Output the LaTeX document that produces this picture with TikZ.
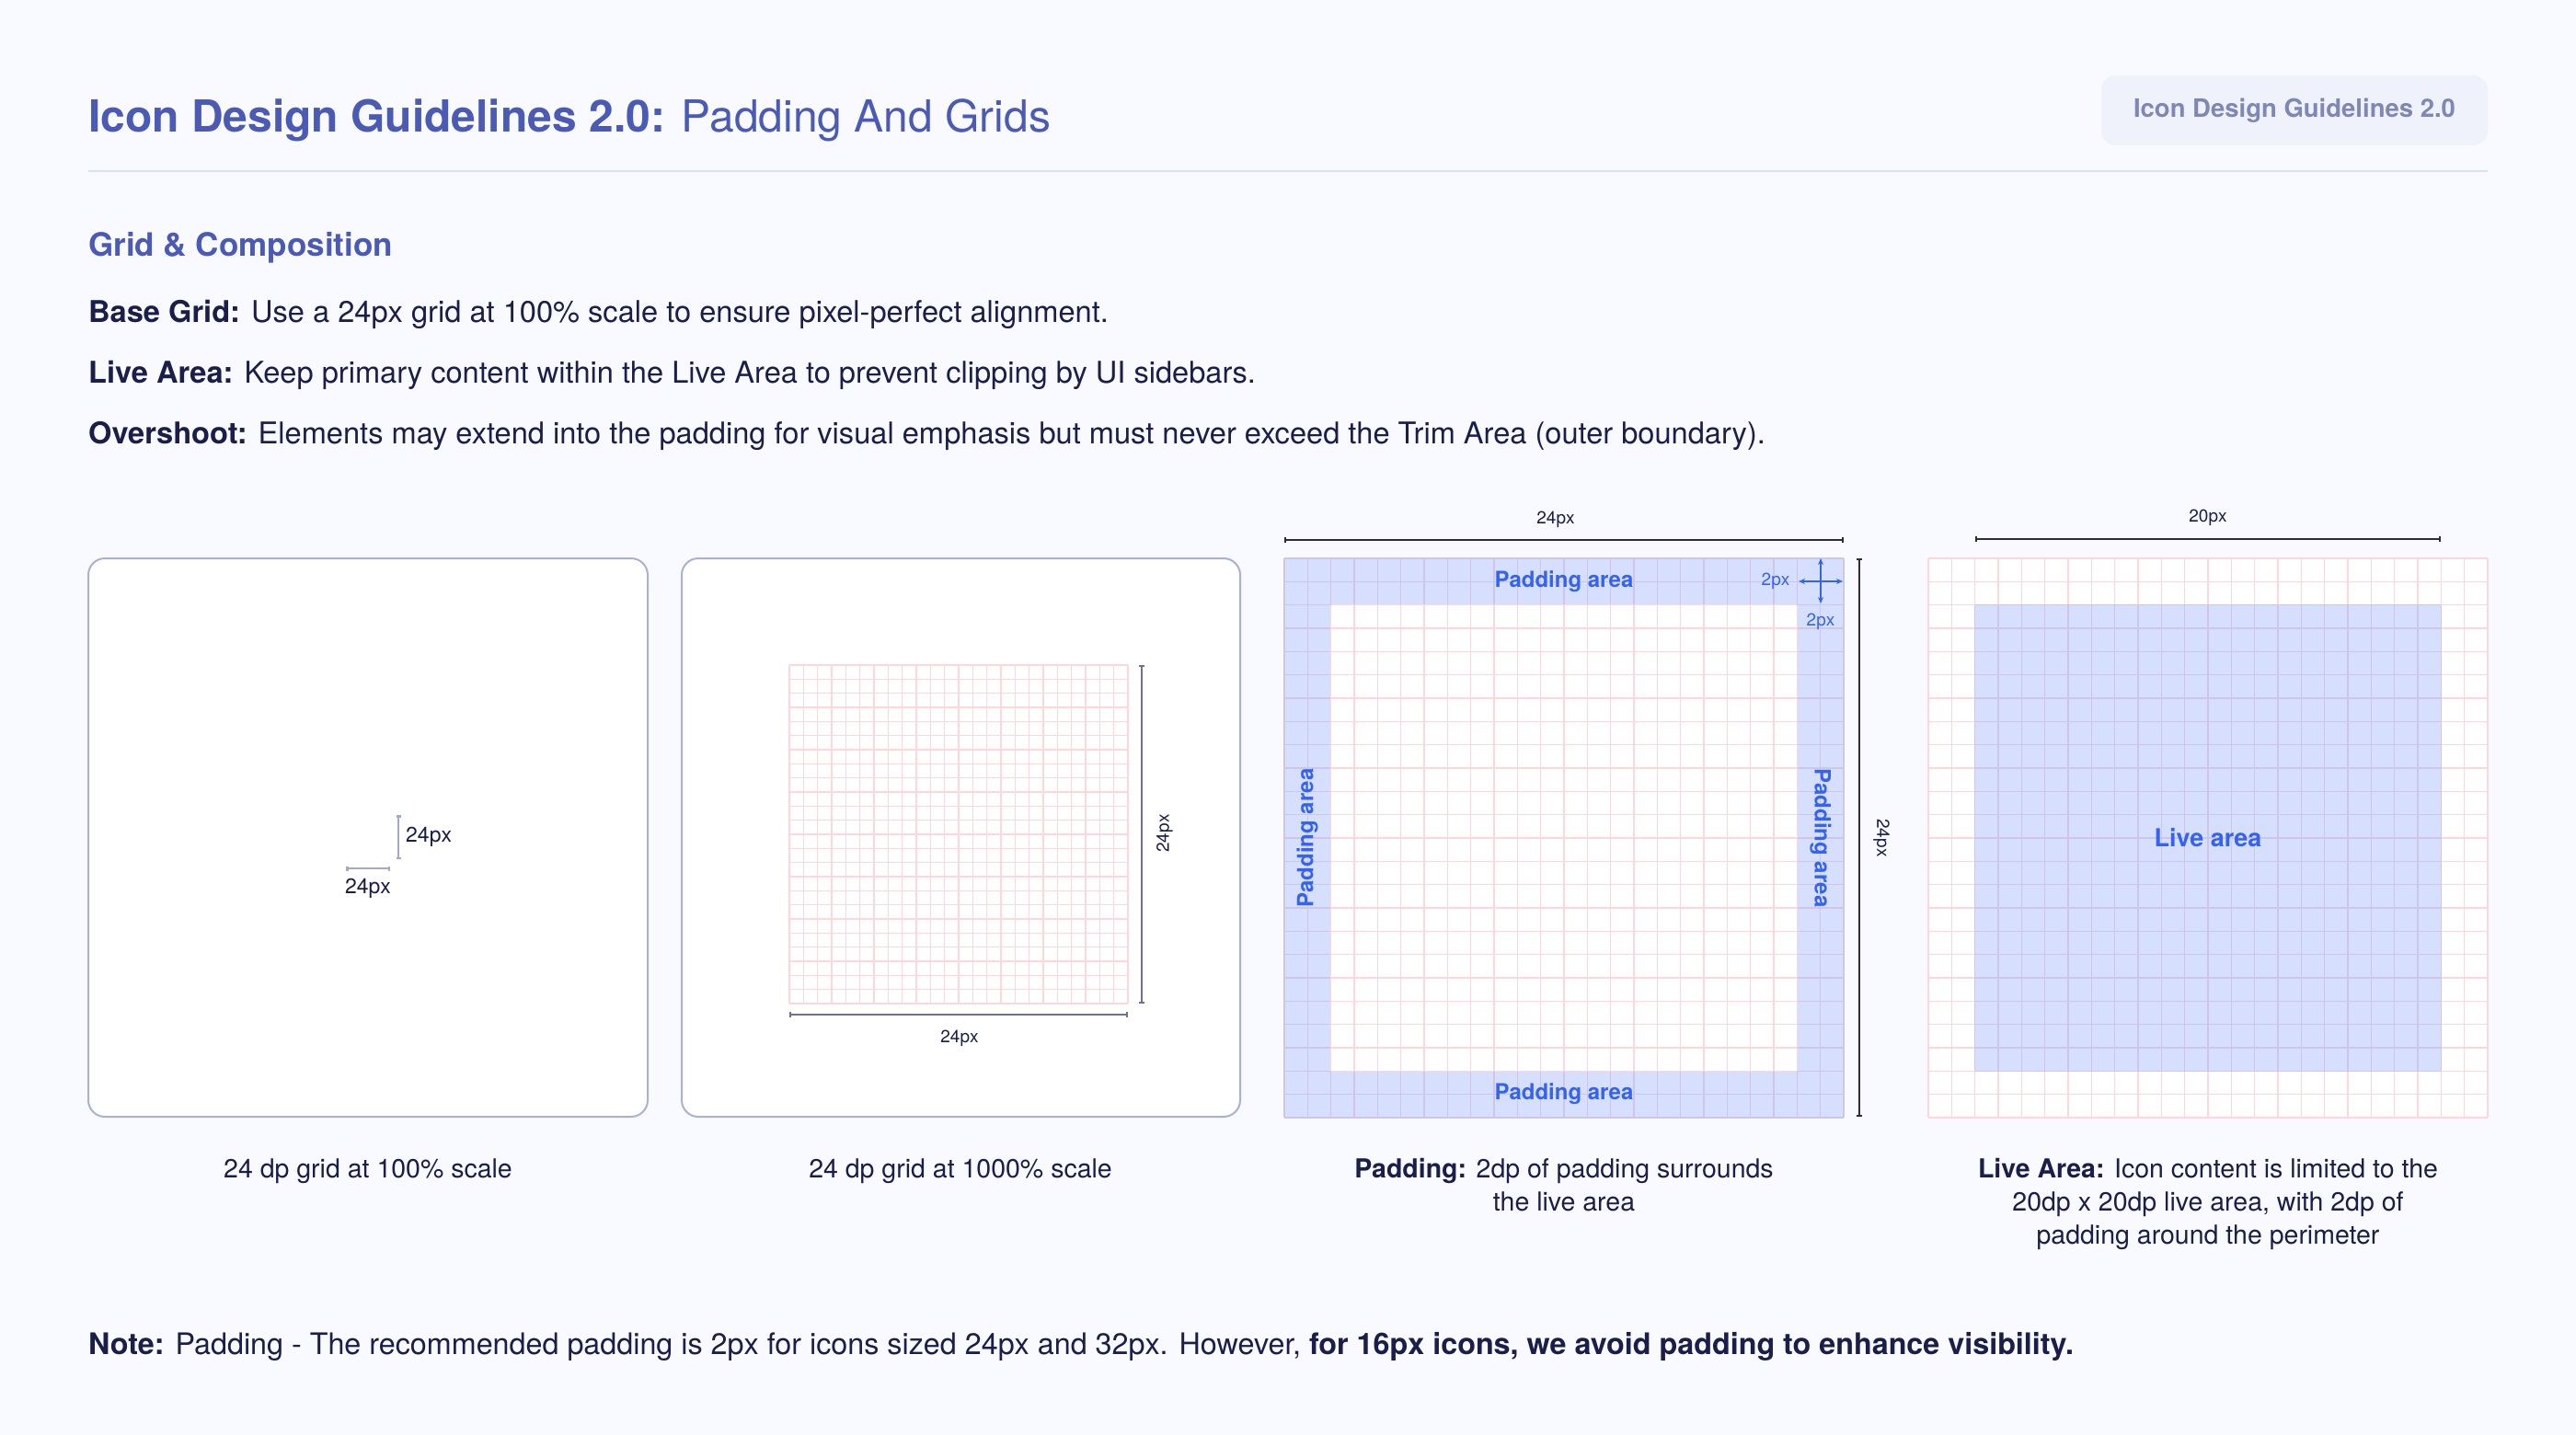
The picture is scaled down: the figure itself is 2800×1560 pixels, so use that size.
\documentclass[tikz,border=0pt]{standalone}
\usepackage{fontspec}
\setmainfont{TeX Gyre Heros}
\usetikzlibrary{arrows.meta}
\definecolor{pagebg}{HTML}{F8FAFF}
\definecolor{indigo}{HTML}{4B5BB5}
\definecolor{ink}{HTML}{1A1E48}
\definecolor{rule}{HTML}{D8E1FA}
\definecolor{boxline}{HTML}{ABB0D6}
\definecolor{badgefill}{HTML}{F0F2FB}
\definecolor{badgeink}{HTML}{7F87B5}
\definecolor{gridpink}{HTML}{FFD6DA}
\definecolor{gridlav}{HTML}{CDC6E6}
\definecolor{padblue}{HTML}{D6DFFD}
\definecolor{brightblue}{HTML}{3563F0}
\definecolor{dimdark}{HTML}{2B2D3C}
\definecolor{dimgrey}{HTML}{6E7396}
\definecolor{dimsoft}{HTML}{A3A8CF}
\tikzset{
	body text/.style={font=\fontsize{32.6}{38}\selectfont,text=ink,anchor=base west,inner sep=0pt},
	caption/.style={font=\fontsize{28.5}{36}\selectfont,text=ink,align=center,anchor=base,inner sep=0pt},
	panel box/.style={draw=boxline,line width=2pt,fill=white,rounded corners=18pt},
	dim label/.style={font=\fontsize{19}{22}\selectfont,text=ink,inner sep=0pt},
	pad label/.style={font=\fontsize{24}{28}\selectfont\bfseries,text=brightblue,inner sep=0pt},
	dim line/.style={draw=dimdark,line width=2.2pt,{Bar[width=6pt]}-{Bar[width=6pt]}},
	pink line/.style={draw=gridpink,line width=1.3pt},
	lav line/.style={draw=gridlav,line width=1.3pt}
}

\begin{document}
\begin{tikzpicture}[x=1pt,y=-1pt]
	\fill[pagebg] (0,0) rectangle (2800,1560);
	\useasboundingbox (0,0) rectangle (2800,1560);

	% header
	\node [anchor=base west,inner sep=0pt,text=indigo,font=\fontsize{48}{56}\selectfont] (title) at (96,143)
		{\textbf{Icon Design Guidelines 2.0:} Padding And Grids};
	\node [fill=badgefill,rounded corners=16pt,minimum width=420pt,minimum height=76pt,
		text=badgeink,font=\fontsize{27.5}{32}\selectfont\bfseries] (badge) at (2494,120) {Icon Design Guidelines 2.0};
	\draw[rule,line width=2.5pt] (96,186) -- (2704,186);

	% section text
	\node [anchor=base west,inner sep=0pt,text=indigo,font=\fontsize{35}{40}\selectfont\bfseries] (section) at (96,278) {Grid \& Composition};
	\node [body text] (basegrid) at (96,350) {\textbf{Base Grid:} Use a 24px grid at 100\% scale to ensure pixel-perfect alignment.};
	\node [body text] (livearea) at (96,416) {\textbf{Live Area:} Keep primary content within the Live Area to prevent clipping by UI sidebars.};
	\node [body text] (overshoot) at (96,482) {\textbf{Overshoot:} Elements may extend into the padding for visual emphasis but must never exceed the Trim Area (outer boundary).};

	% panel 1: 100% scale
	\draw[panel box] (96,607) rectangle (704,1214);
	\coordinate (v1a) at (433,886);
	\coordinate (v1b) at (433,934);
	\coordinate (h1a) at (376,944);
	\coordinate (h1b) at (424,944);
	\draw[draw=dimsoft,line width=2.5pt,{Bar[width=5pt]}-{Bar[width=5pt]}] (v1a) -- (v1b);
	\draw[draw=dimsoft,line width=2.5pt,{Bar[width=5pt]}-{Bar[width=5pt]}] (h1a) -- (h1b);
	\node [dim label,font=\fontsize{23}{26}\selectfont,anchor=west] (small1) at (441,910) {24px};
	\node [dim label,font=\fontsize{23}{26}\selectfont] (small2) at (400,966) {24px};

	% panel 2: 1000% scale
	\draw[panel box] (741,607) rectangle (1348,1214);
	\foreach \k in {0,...,24} {
		\draw[pink line] ({858+\k*15.333},723) -- ({858+\k*15.333},1091);
		\draw[pink line] (858,{723+\k*15.333}) -- (1226,{723+\k*15.333});
	}
	\coordinate (r2a) at (1241,723);
	\coordinate (r2b) at (1241,1091);
	\coordinate (b2a) at (858,1103);
	\coordinate (b2b) at (1226,1103);
	\draw[dim line,draw=dimgrey,line width=1.6pt] (r2a) -- (r2b);
	\draw[dim line,draw=dimgrey,line width=1.6pt] (b2a) -- (b2b);
	\node [dim label] (big1) at (1043,1129) {24px};
	\node [dim label,rotate=90] (big2) at (1266,906) {24px};

	% panel 3: padding
	\fill[padblue] (1396,607) rectangle (2004,1215);
	\foreach \k in {0,...,24} {
		\draw[lav line] ({1396+\k*25.333},607) -- ({1396+\k*25.333},1215);
		\draw[lav line] (1396,{607+\k*25.333}) -- (2004,{607+\k*25.333});
	}
	\fill[white] (1447,658) rectangle (1953,1164);
	\foreach \k in {2,...,22} {
		\draw[pink line] ({1396+\k*25.333},658) -- ({1396+\k*25.333},1164);
		\draw[pink line] (1447,{607+\k*25.333}) -- (1953,{607+\k*25.333});
	}
	\coordinate (t3a) at (1396,587);
	\coordinate (t3b) at (2004,587);
	\coordinate (r3a) at (2021,607);
	\coordinate (r3b) at (2021,1214);
	\draw[dim line] (t3a) -- (t3b);
	\draw[dim line] (r3a) -- (r3b);
	\node [dim label] (pad24a) at (1691,565) {24px};
	\node [dim label,rotate=-90] (pad24b) at (2045,911) {24px};
	\node [pad label] (padtop) at (1700,632) {Padding area};
	\node [pad label] (padbottom) at (1700,1189) {Padding area};
	\node [pad label,rotate=90] (padleft) at (1421,911) {Padding area};
	\node [pad label,rotate=-90] (padright) at (1979,911) {Padding area};
	\node [dim label,text=brightblue] (twopxa) at (1930,632) {2px};
	\node [dim label,text=brightblue] (twopxb) at (1979,676) {2px};
	\coordinate (cv1) at (1979,607);
	\coordinate (cv2) at (1979,656);
	\coordinate (ch1) at (1955,632);
	\coordinate (ch2) at (2003,632);
	\draw[brightblue,line width=1.6pt,{Stealth[length=7pt,width=6pt]}-{Stealth[length=7pt,width=6pt]}] (cv1) -- (cv2);
	\draw[brightblue,line width=1.6pt,{Stealth[length=7pt,width=6pt]}-{Stealth[length=7pt,width=6pt]}] (ch1) -- (ch2);

	% panel 4: live area
	\fill[white] (2096,607) rectangle (2704,1215);
	\foreach \k in {0,...,24} {
		\draw[pink line] ({2096+\k*25.333},607) -- ({2096+\k*25.333},1215);
		\draw[pink line] (2096,{607+\k*25.333}) -- (2704,{607+\k*25.333});
	}
	\fill[padblue] (2147,658) rectangle (2653,1164);
	\foreach \k in {2,...,22} {
		\draw[lav line] ({2096+\k*25.333},658) -- ({2096+\k*25.333},1164);
		\draw[lav line] (2147,{607+\k*25.333}) -- (2653,{607+\k*25.333});
	}
	\coordinate (t4a) at (2147,586);
	\coordinate (t4b) at (2653,586);
	\draw[dim line] (t4a) -- (t4b);
	\node [dim label] (live20) at (2400,563) {20px};
	\node [pad label,font=\fontsize{27}{30}\selectfont\bfseries] (live) at (2400,911) {Live area};

	% captions (base anchor sits on the last line)
	\node [caption] (cap1) at (400,1280) {24 dp grid at 100\% scale};
	\node [caption] (cap2) at (1044,1280) {24 dp grid at 1000\% scale};
	\node [caption] (cap3) at (1700,1316) {\textbf{Padding:} 2dp of padding surrounds\\the live area};
	\node [caption] (cap4) at (2400,1352) {\textbf{Live Area:} Icon content is limited to the\\20dp x 20dp live area, with 2dp of\\padding around the perimeter};

	% note
	\node [body text,font=\fontsize{32.3}{38}\selectfont] (note) at (96,1472) {\textbf{Note:} Padding - The recommended padding is 2px for icons sized 24px and 32px. However, \textbf{for 16px icons, we avoid padding to enhance visibility.}};
\end{tikzpicture}
\end{document}
